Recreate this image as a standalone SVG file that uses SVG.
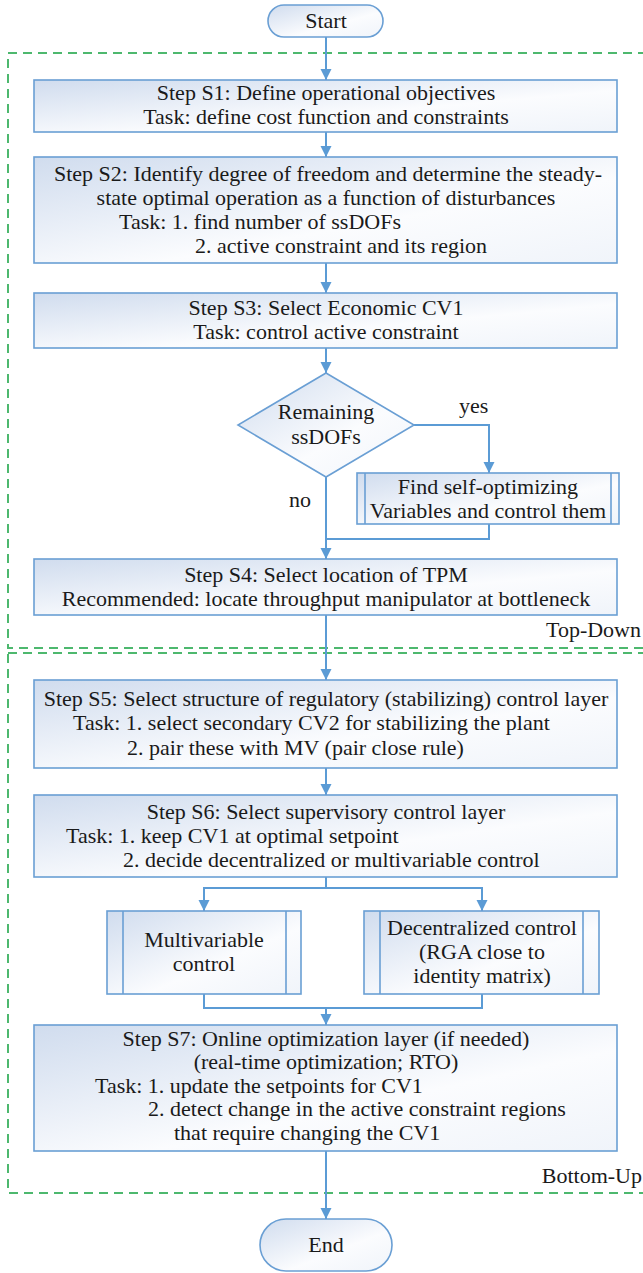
<svg xmlns="http://www.w3.org/2000/svg" width="643" height="1273" viewBox="0 0 643 1273" font-family="'Liberation Serif', 'Times New Roman', serif">
<defs>
<linearGradient id="g" x1="0" y1="0" x2="1" y2="1">
<stop offset="0" stop-color="#d0dcee"/>
<stop offset="0.6" stop-color="#fbfcfe"/>
<stop offset="1" stop-color="#f0f4fa"/>
</linearGradient>
<marker id="ah" markerWidth="12" markerHeight="12" refX="11" refY="5.5" orient="auto" markerUnits="userSpaceOnUse">
<path d="M0,0 L11,5.5 L0,11 z" fill="#5b9bd5"/>
</marker>
<style>
.box{fill:url(#g);stroke:#6a9fd4;stroke-width:1.6}
.sub{fill:none;stroke:#6a9fd4;stroke-width:1.6}
text{font-family:'Liberation Serif','Times New Roman',serif;font-size:22px;fill:#1a1a1a}
.c{text-anchor:middle}
.e{text-anchor:end}
.ln{fill:none;stroke:#5b9bd5;stroke-width:2}
.ar{fill:none;stroke:#5b9bd5;stroke-width:2;marker-end:url(#ah)}
.dash{fill:none;stroke:#4db86e;stroke-width:2;stroke-dasharray:9 6}
</style>
</defs>
<g id="regions">
<rect class="dash" x="8" y="53" width="650" height="595"/>
<rect class="dash" x="8" y="653" width="650" height="540"/>
<text class="e" x="641" y="637">Top-Down</text>
<text class="e" x="642" y="1183">Bottom-Up</text>
</g>
<g id="connectors">
<path class="ar" d="M326,37 V80"/>
<path class="ar" d="M326,132 V157"/>
<path class="ar" d="M326,263 V293"/>
<path class="ar" d="M326,348 V373"/>
<path class="ar" d="M414,425 H489 V473"/>
<path class="ar" d="M326,477 V559"/>
<path class="ln" d="M489,524 V539 H326"/>
<path class="ar" d="M326,615 V680"/>
<path class="ar" d="M326,768 V795"/>
<path class="ln" d="M326,877 V888"/>
<path class="ar" d="M326,888 H204 V911"/>
<path class="ar" d="M326,888 H482 V911"/>
<path class="ln" d="M204,994 V1008 H482 V994"/>
<path class="ar" d="M326,1008 V1025"/>
<path class="ar" d="M326,1151 V1219"/>
<text x="459" y="413">yes</text>
<text x="289" y="507">no</text>
</g>
<g id="start">
<rect class="box" x="268" y="5" width="115" height="32" rx="16"/>
<text class="c" x="326" y="28">Start</text>
</g>
<g id="s1">
<rect class="box" x="34" y="80" width="583" height="52"/>
<text class="c" x="326" y="100">Step S1: Define operational objectives</text>
<text class="c" x="326" y="124">Task: define cost function and constraints</text>
</g>
<g id="s2">
<rect class="box" x="34" y="157" width="583" height="106"/>
<text class="c" x="328" y="181">Step S2: Identify degree of freedom and determine the steady-</text>
<text class="c" x="326" y="205">state optimal operation as a function of disturbances</text>
<text x="119" y="229">Task: 1. find number of ssDOFs</text>
<text x="195" y="253">2. active constraint and its region</text>
</g>
<g id="s3">
<rect class="box" x="34" y="293" width="583" height="55"/>
<text class="c" x="326" y="315">Step S3: Select Economic CV1</text>
<text class="c" x="326" y="339">Task: control active constraint</text>
</g>
<g id="decision">
<polygon class="box" points="326,373 414,425 326,477 238,425"/>
<text class="c" x="326" y="419">Remaining</text>
<text class="c" x="326" y="444">ssDOFs</text>
</g>
<g id="selfopt">
<rect class="box" x="357" y="473" width="262" height="51"/>
<path class="sub" d="M365,473 V524 M611,473 V524"/>
<text class="c" x="488" y="494">Find self-optimizing</text>
<text class="c" x="488" y="518">Variables and control them</text>
</g>
<g id="s4">
<rect class="box" x="34" y="559" width="583" height="56"/>
<text class="c" x="326" y="582">Step S4: Select location of TPM</text>
<text class="c" x="326" y="606">Recommended: locate throughput manipulator at bottleneck</text>
</g>
<g id="s5">
<rect class="box" x="34" y="680" width="583" height="88"/>
<text class="c" x="326" y="706">Step S5: Select structure of regulatory (stabilizing) control layer</text>
<text x="73" y="730">Task: 1. select secondary CV2 for stabilizing the plant</text>
<text x="127" y="755">2. pair these with MV (pair close rule)</text>
</g>
<g id="s6">
<rect class="box" x="34" y="795" width="583" height="82"/>
<text class="c" x="326" y="819">Step S6: Select supervisory control layer</text>
<text x="66" y="843">Task: 1. keep CV1 at optimal setpoint</text>
<text x="123" y="867">2. decide decentralized or multivariable control</text>
</g>
<g id="multivariable">
<rect class="box" x="107" y="911" width="194" height="83"/>
<path class="sub" d="M123,911 V994 M286,911 V994"/>
<text class="c" x="204" y="947">Multivariable</text>
<text class="c" x="204" y="971">control</text>
</g>
<g id="decentralized">
<rect class="box" x="364" y="911" width="235" height="83"/>
<path class="sub" d="M380,911 V994 M583,911 V994"/>
<text class="c" x="482" y="935">Decentralized control</text>
<text class="c" x="482" y="959">(RGA close to</text>
<text class="c" x="482" y="983">identity matrix)</text>
</g>
<g id="s7">
<rect class="box" x="34" y="1025" width="583" height="126"/>
<text class="c" x="326" y="1046">Step S7: Online optimization layer (if needed)</text>
<text class="c" x="326" y="1069">(real-time optimization; RTO)</text>
<text x="95" y="1093">Task: 1. update the setpoints for CV1</text>
<text x="148" y="1116">2. detect change in the active constraint regions</text>
<text x="174" y="1140">that require changing the CV1</text>
</g>
<g id="end">
<rect class="box" x="260" y="1219" width="132" height="52" rx="26"/>
<text class="c" x="326" y="1252">End</text>
</g>
</svg>
